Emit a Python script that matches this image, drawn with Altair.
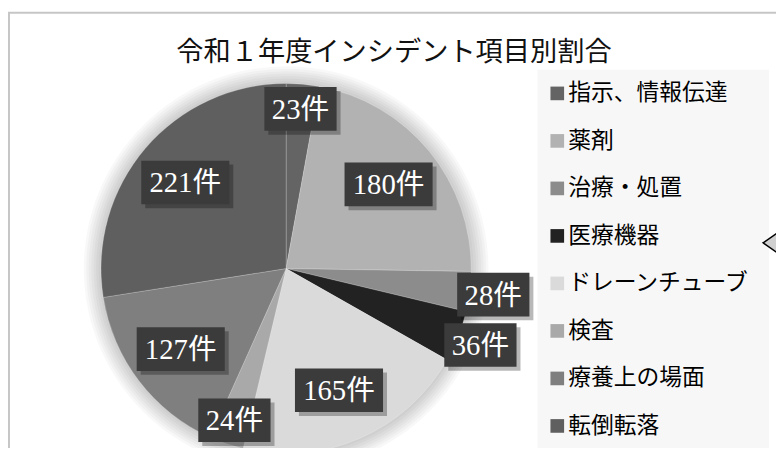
import math
import altair as alt
import pandas as pd

# ---------------- data ----------------
title_text = "令和１年度インシデント項目別割合"
categories = ["指示、情報伝達", "薬剤", "治療・処置", "医療機器",
              "ドレーンチューブ", "検査", "療養上の場面", "転倒転落"]
counts = [23, 180, 28, 36, 165, 24, 127, 221]
unit = "件"
colors = ["#646464", "#b2b2b2", "#8c8c8c", "#222222",
          "#dadada", "#a9a9a9", "#7f7f7f", "#5f5f5f"]

df = pd.DataFrame({"cat": categories, "n": counts, "order": list(range(len(categories)))})

# ---------------- layout ----------------
W, H = 776, 440
CX, CY, R = 281, 261, 187
color_scale = alt.Scale(domain=categories, range=colors)
one = pd.DataFrame({"t": [title_text]})

border = alt.Chart(one).mark_rect(fillOpacity=0, stroke="#c6c6c6", strokeWidth=2).encode(
    x=alt.value(1), x2=alt.value(1200), y=alt.value(2.5), y2=alt.value(1200))

legend_bg = alt.Chart(one).mark_rect(color="#f7f7f7").encode(
    x=alt.value(535), x2=alt.value(769), y=alt.value(60), y2=alt.value(1200))

shadows = [
    alt.Chart(one).mark_arc(theta=0, theta2=2 * math.pi, outerRadius=R + k * 2.5,
                            color="#000000", opacity=0.028).encode(
        x=alt.value(CX), y=alt.value(CY))
    for k in range(1, 8)
]

base = alt.Chart(df)
pie = base.mark_arc(outerRadius=R, stroke="#ffffff", strokeWidth=0.6, strokeOpacity=0.35).encode(
    theta=alt.Theta("n:Q", stack=True),
    order=alt.Order("order:Q"),
    color=alt.Color("cat:N", scale=color_scale, legend=None),
    x=alt.value(CX), y=alt.value(CY),
)

lab = base.transform_window(
    cum="sum(n)", sort=[alt.SortField("order")], frame=[None, 0]
).transform_joinaggregate(total="sum(n)").transform_calculate(
    mid="(datum.cum - datum.n/2) / datum.total * 2 * PI",
    r="datum.n >= 100 ? 134 : (datum.n < 26 ? 162 : 211)",
    lx=f"{CX} + datum.r * sin(datum.mid)",
    ly=f"{CY} - datum.r * cos(datum.mid)",
    hw="datum.n >= 100 ? 44.5 : 36.5",
    x1="datum.lx - datum.hw", x2="datum.lx + datum.hw",
    y1="datum.ly - 22", y2="datum.ly + 22",
    sx1="datum.x1 + 4", sx2="datum.x2 + 4", sy1="datum.y1 + 4", sy2="datum.y2 + 4",
    label=f"datum.n + '{unit}'",
)

box_shadow = lab.mark_rect(color="#000000", opacity=0.28).encode(
    x=alt.X("sx1:Q", scale=None, axis=None), x2="sx2:Q",
    y=alt.Y("sy1:Q", scale=None, axis=None), y2="sy2:Q")
boxes = lab.mark_rect(color="#3b3b3b").encode(
    x=alt.X("x1:Q", scale=None, axis=None), x2="x2:Q",
    y=alt.Y("y1:Q", scale=None, axis=None), y2="y2:Q")
texts = lab.mark_text(font="Liberation Serif, Noto Sans CJK JP", fontSize=29,
                      color="#ffffff", align="center", baseline="middle", dy=1).encode(
    x=alt.X("lx:Q", scale=None, axis=None),
    y=alt.Y("ly:Q", scale=None, axis=None),
    text="label:N")

title = alt.Chart(one).mark_text(font="Noto Sans CJK JP", fontSize=27.5, color="#111111",
                                 align="center", baseline="middle").encode(
    x=alt.value(390), y=alt.value(43), text="t:N")

leg_y = alt.Y("cat:N", scale=alt.Scale(type="point", domain=categories, range=[84, 420], padding=0),
              axis=None)
legend_sq = base.mark_square(size=190, opacity=1).encode(
    x=alt.value(555), y=leg_y,
    color=alt.Color("cat:N", scale=color_scale, legend=None))
legend_txt = base.mark_text(font="Noto Sans CJK JP", fontSize=23, color="#000000",
                            align="left", baseline="middle").encode(
    x=alt.value(566), y=leg_y, text="cat:N")

chevron = alt.Chart(one).mark_point(shape="M1,-1.4L-1,0L1,1.4", size=196, filled=False,
                                    fill="#d0d0d0", fillOpacity=1, stroke="#000000",
                                    strokeWidth=1.5, opacity=1).encode(
    x=alt.value(770), y=alt.value(235))

chart = alt.layer(
    border, legend_bg, *shadows, pie, box_shadow, boxes, texts, title,
    legend_sq, legend_txt, chevron
).resolve_scale(
    x="independent", y="independent"
).properties(
    width=W, height=H, padding=0,
    autosize=alt.AutoSizeParams(type="none"),
    background="#ffffff",
).configure_view(stroke=None)

chart.save("out.html", embed_options={"renderer": "svg", "actions": False})
